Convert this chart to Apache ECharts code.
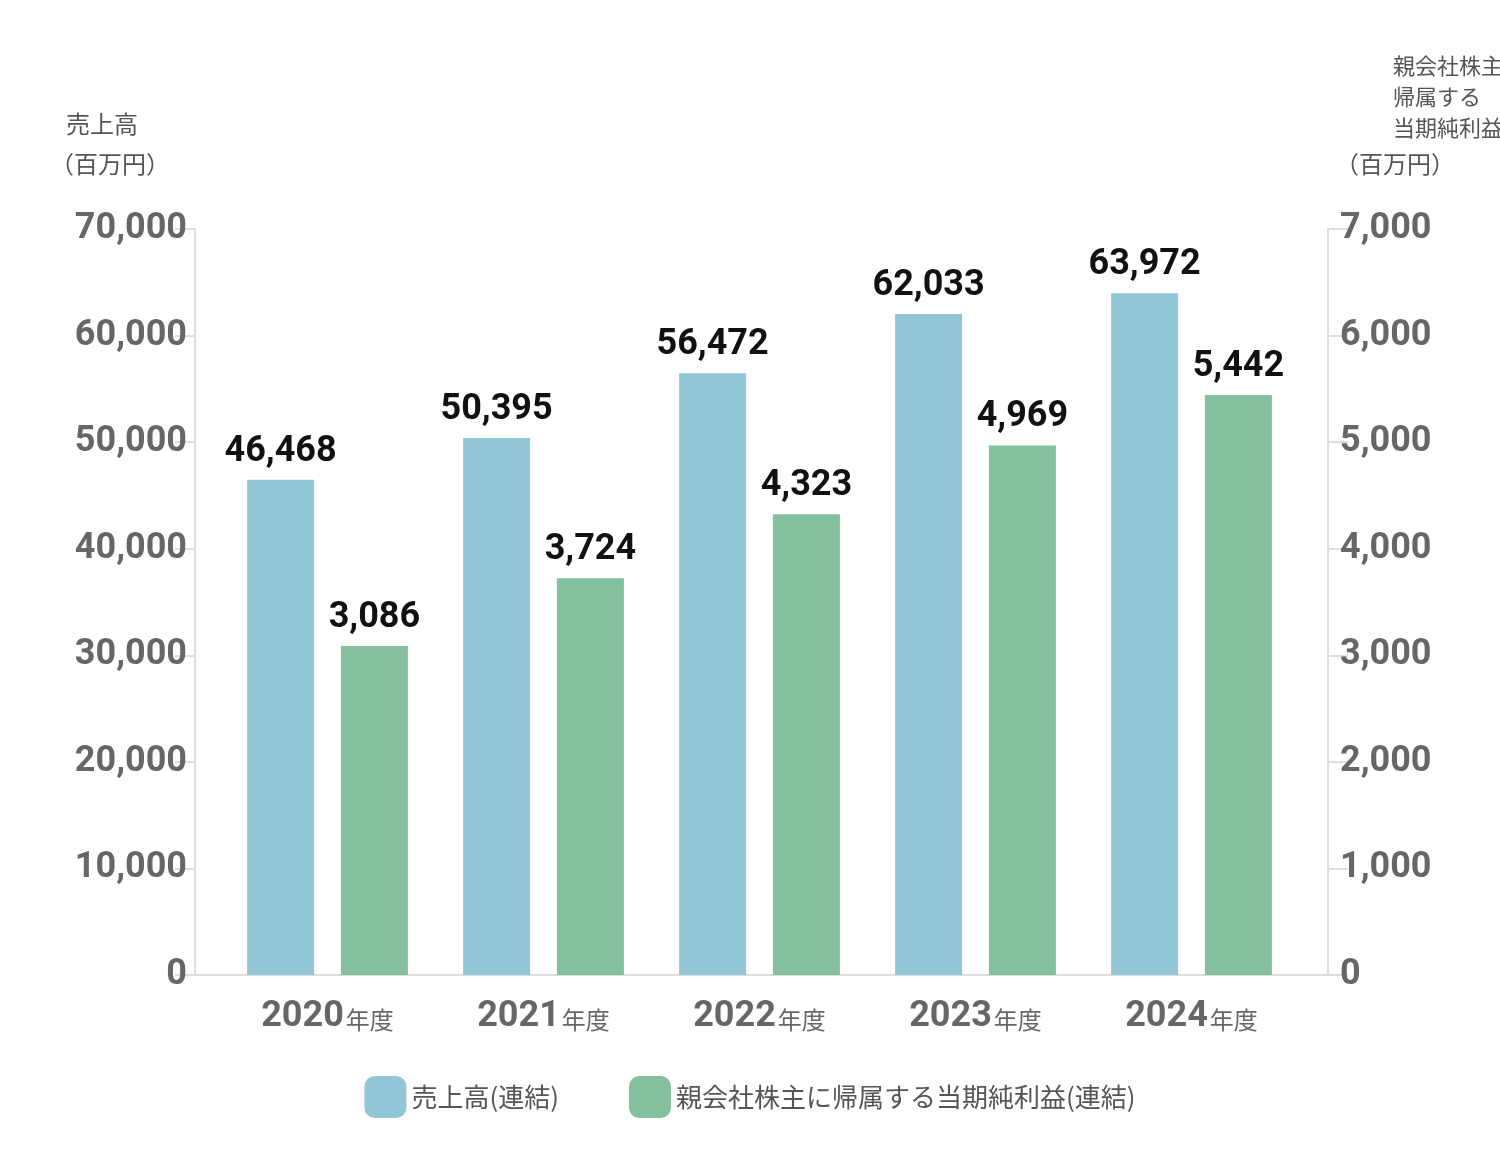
<!DOCTYPE html>
<html><head><meta charset="utf-8">
<script src="https://cdn.jsdelivr.net/npm/echarts@6/dist/echarts.min.js"></script>
<style>html,body{margin:0;background:#fff}#chart{width:1500px;height:1173px}</style>
</head><body><div id="chart"></div>
<script>
const years = ['2020', '2021', '2022', '2023', '2024']
const sales = [46468, 50395, 56472, 62033, 63972]
const profit = [3086, 3724, 4323, 4969, 5442]
const leftTicks = [0, 10000, 20000, 30000, 40000, 50000, 60000, 70000]
const rightTicks = [0, 1000, 2000, 3000, 4000, 5000, 6000, 7000]

const numFont = '"Liberation Sans Narrow", "Roboto", sans-serif'
const cjk = '"Noto Sans CJK JP", sans-serif'
const fmt = v => v.toLocaleString('en-US')

const chart = echarts.init(document.getElementById('chart'))
chart.setOption({
  animation: false,
  grid: [
    { left: 219.5, right: 200.5, top: 229, bottom: 198 },
    { left: 195, right: 172, top: 229, bottom: 198 }
  ],
  legend: {
    bottom: 50, left: 'center', itemWidth: 42, itemHeight: 42, itemGap: 70,
    textStyle: { fontFamily: cjk, fontSize: 26, color: '#555' },
    data: ['売上高(連結)', '親会社株主に帰属する当期純利益(連結)']
  },
  xAxis: [
    {
      type: 'category', gridIndex: 0, data: years,
      axisLine: { show: false }, axisTick: { show: false },
      axisLabel: {
        margin: 24,
        formatter: v => '{n|' + v + '}{s|年度}',
        rich: {
          n: { fontFamily: numFont, fontWeight: 'bold', fontSize: 36, color: '#666' },
          s: { fontFamily: cjk, fontSize: 24, color: '#666', padding: [6, 0, 0, 2] }
        }
      }
    },
    {
      type: 'category', gridIndex: 1, data: years,
      axisLine: { lineStyle: { color: '#ddd', width: 2 } },
      axisTick: { show: false }, axisLabel: { show: false }
    }
  ],
  yAxis: [
    {
      type: 'value', gridIndex: 0, min: 0, max: 70000, interval: 10000, offset: 24.5,
      axisLine: { show: true, lineStyle: { color: '#ddd', width: 2 } },
      axisTick: { show: true, length: 20, lineStyle: { color: '#ddd', width: 2 } },
      splitLine: { show: false },
      axisLabel: { margin: 8, formatter: fmt, fontFamily: numFont, fontWeight: 'bold', fontSize: 36, color: '#666' }
    },
    {
      type: 'value', gridIndex: 0, min: 0, max: 7000, interval: 1000, offset: 28.5, position: 'right',
      axisLine: { show: true, lineStyle: { color: '#ddd', width: 2 } },
      axisTick: { show: true, length: 20, lineStyle: { color: '#ddd', width: 2 } },
      splitLine: { show: false },
      axisLabel: { margin: 12, formatter: fmt, fontFamily: numFont, fontWeight: 'bold', fontSize: 36, color: '#666' }
    },
    { type: 'value', gridIndex: 1, show: false, min: 0, max: 1 }
  ],
  series: [
    {
      name: '売上高(連結)', type: 'bar', xAxisIndex: 0, yAxisIndex: 0, data: sales,
      barWidth: 67, barGap: '40%', itemStyle: { color: '#93c6d6' },
      label: { show: true, position: 'top', distance: 10, formatter: p => fmt(p.value),
        fontFamily: numFont, fontWeight: 'bold', fontSize: 36, color: '#111' }
    },
    {
      name: '親会社株主に帰属する当期純利益(連結)', type: 'bar', xAxisIndex: 0, yAxisIndex: 1, data: profit,
      barWidth: 67, itemStyle: { color: '#84bf9e' },
      label: { show: true, position: 'top', distance: 10, formatter: p => fmt(p.value),
        fontFamily: numFont, fontWeight: 'bold', fontSize: 36, color: '#111' }
    }
  ],
  graphic: [
    { type: 'text', left: 66, top: 112, style: { text: '売上高', font: '24px ' + cjk, fill: '#555' } },
    { type: 'text', left: 50, top: 152, style: { text: '（百万円）', font: '24px ' + cjk, fill: '#555' } },
    { type: 'text', left: 1393, top: 50, style: { text: '親会社株主に\n帰属する\n当期純利益', font: '22px ' + cjk, fill: '#555', align: 'center', lineHeight: 31 } },
    { type: 'text', left: 1335, top: 152, style: { text: '（百万円）', font: '24px ' + cjk, fill: '#555' } }
  ]
})
</script></body></html>
